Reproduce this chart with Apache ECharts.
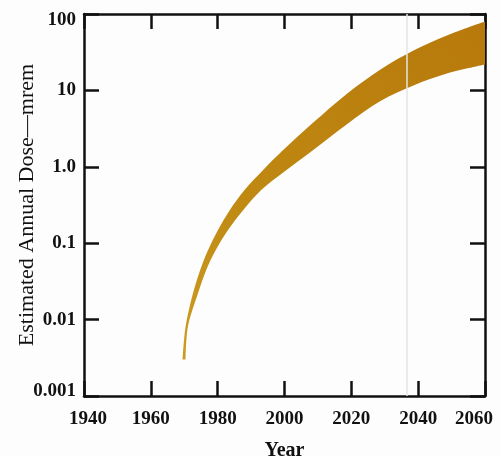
<!DOCTYPE html>
<html>
<head>
<meta charset="utf-8">
<script src="https://cdn.jsdelivr.net/npm/echarts@6/dist/echarts.min.js"></script>
<style>
  html, body { margin: 0; padding: 0; background: #fdfdfd; }
  #chart { width: 501px; height: 456px; }
</style>
</head>
<body>
<div id="chart"></div>
<script>
// Upper edge of the band (year, estimated annual dose in mrem)
const upperYears = [1969.5, 1970.4, 1972.6, 1974.8, 1977.1, 1980.1, 1983.6, 1988.1, 1993.6, 1999.6, 2008.6, 2018.6, 2028.6, 2038.6, 2048.6, 2060];
const upperDose  = [0.003, 0.0081, 0.022, 0.045, 0.081, 0.149, 0.27, 0.50, 0.91, 1.66, 3.8, 9.0, 18.7, 33.4, 52.5, 80];
// Lower edge of the band
const lowerYears = [1970.4, 1971.1, 1974.1, 1976.6, 1979.4, 1983.1, 1987.6, 1993.1, 1999.8, 2008.6, 2018.6, 2028.6, 2038.6, 2048.6, 2060];
const lowerDose  = [0.003, 0.0081, 0.022, 0.045, 0.081, 0.149, 0.27, 0.50, 0.855, 1.66, 3.58, 7.2, 11.6, 16.6, 21.8];

const xTickValues = [1940, 1960, 1980, 2000, 2020, 2040, 2060];
const xTickLabels = ['1940', '1960', '1980', '2000', '2020', '2040', '2060'];
const yTickValues = [0.001, 0.01, 0.1, 1, 10, 100];
const yTickLabels = ['0.001', '0.01', '0.1', '1.0', '10', '100'];

const FONT = '"Liberation Serif", "DejaVu Serif", serif';
const INK = '#111111';

const chart = echarts.init(document.getElementById('chart'), null, { renderer: 'canvas' });

const tickStyle = { show: true, inside: true, length: 15, lineStyle: { color: INK, width: 2.5 } };
const lineStyle = { show: true, lineStyle: { color: INK, width: 2.5 } };

const base = { fontFamily: FONT, fontSize: 19, fontWeight: 'bold', color: INK };
const labelRich = {
  n: Object.assign({}, base),
  t: Object.assign({}, base, { padding: [12, 0, 0, 0] }),
  b: Object.assign({}, base, { padding: [0, 0, 10, 0] }),
  l: Object.assign({}, base, { padding: [0, 0, 0, 8] }),
  r: Object.assign({}, base, { padding: [0, 22, 0, 0] })
};

function yLabel(v) {
  const i = Math.round(Math.log10(v)) + 3;
  const s = yTickLabels[i];
  if (s === undefined) return '';
  if (i === yTickLabels.length - 1) return '{t|' + s + '}';
  if (i === 0) return '{b|' + s + '}';
  return '{n|' + s + '}';
}
function xLabel(v) {
  const i = xTickValues.indexOf(Math.round(v));
  if (i < 0) return '';
  const s = xTickLabels[i];
  if (i === 0) return '{l|' + s + '}';
  if (i === xTickLabels.length - 1) return '{r|' + s + '}';
  return '{n|' + s + '}';
}

// centripetal Catmull-Rom through screen points -> cubic bezier path commands
function crSegments(pts) {
  const A = 0.5;
  const len = (p, q) => Math.hypot(q[0] - p[0], q[1] - p[1]);
  let d = '';
  for (let i = 0; i < pts.length - 1; i++) {
    const p0 = pts[i - 1] || pts[i], p1 = pts[i], p2 = pts[i + 1], p3 = pts[i + 2] || pts[i + 1];
    const l01 = Math.pow(len(p0, p1), A), l12 = Math.pow(len(p1, p2), A), l23 = Math.pow(len(p2, p3), A);
    let b1 = p1.slice(), b2 = p2.slice();
    if (l01 > 1e-6) {
      const a = 2 * l01 * l01 + 3 * l01 * l12 + l12 * l12, n = 3 * l01 * (l01 + l12);
      b1 = [0, 1].map(k => (p1[k] * a - p0[k] * l12 * l12 + p2[k] * l01 * l01) / n);
    }
    if (l23 > 1e-6) {
      const b = 2 * l23 * l23 + 3 * l23 * l12 + l12 * l12, m = 3 * l23 * (l23 + l12);
      b2 = [0, 1].map(k => (p2[k] * b + p1[k] * l23 * l23 - p3[k] * l12 * l12) / m);
    }
    d += 'C' + b1[0] + ' ' + b1[1] + ' ' + b2[0] + ' ' + b2[1] + ' ' + p2[0] + ' ' + p2[1];
  }
  return d;
}

const option = {
  backgroundColor: '#fdfdfd',
  animation: false,
  grid: { left: 84, right: 16, top: 14, bottom: 60, containLabel: false, outerBoundsMode: 'none' },
  xAxis: [
    {
      type: 'value', min: 1940, max: 2060, interval: 20,
      axisLine: lineStyle, axisTick: tickStyle, splitLine: { show: false },
      axisLabel: { show: true, margin: 14, formatter: xLabel, rich: labelRich, showMinLabel: true, showMaxLabel: true },
      name: 'Year', nameLocation: 'middle', nameGap: 45, nameMoveOverlap: false,
      nameTextStyle: { fontFamily: FONT, fontSize: 20, fontWeight: 'bold', color: INK }
    },
    {
      type: 'value', position: 'top', min: 1940, max: 2060, interval: 20,
      axisLine: lineStyle, axisTick: tickStyle, splitLine: { show: false }, axisLabel: { show: false }
    }
  ],
  yAxis: [
    {
      type: 'log', logBase: 10, min: 0.001, max: 100,
      axisLine: lineStyle, axisTick: tickStyle, splitLine: { show: false }, minorTick: { show: false },
      axisLabel: { show: true, margin: 8, formatter: yLabel, rich: labelRich, showMinLabel: true, showMaxLabel: true },
      name: 'Estimated Annual Dose\u2014mrem', nameLocation: 'middle', nameGap: 46, nameMoveOverlap: false,
      nameTextStyle: { fontFamily: FONT, fontSize: 22, color: INK }
    },
    {
      type: 'log', logBase: 10, min: 0.001, max: 100, position: 'right',
      axisLine: lineStyle, axisTick: tickStyle, splitLine: { show: false }, axisLabel: { show: false }
    }
  ],
  series: [
    {
      type: 'line',
      data: [],
      silent: true,
      markLine: {
        symbol: 'none', silent: true, label: { show: false },
        lineStyle: { color: '#e4e4e4', width: 1.5, type: 'solid' },
        data: [{ xAxis: 2036.5 }]
      }
    },
    {
      type: 'custom',
      xAxisIndex: 0, yAxisIndex: 0,
      data: [[upperYears[0], upperDose[0]]],
      encode: { x: 0, y: 1 },
      renderItem: function (params, api) {
        const up = upperYears.map((y, i) => api.coord([y, upperDose[i]]));
        const lo = lowerYears.map((y, i) => api.coord([y, lowerDose[i]])).reverse();
        const d = 'M' + up[0][0] + ' ' + up[0][1] + crSegments(up) +
                  'L' + lo[0][0] + ' ' + lo[0][1] + crSegments(lo) + 'Z';
        return {
          type: 'path',
          shape: { pathData: d },
          style: {
            fill: new echarts.graphic.LinearGradient(0, 1, 1, 0, [
              { offset: 0, color: '#cc9c22' },
              { offset: 0.35, color: '#bf8912' },
              { offset: 1, color: '#b7790b' }
            ]),
            stroke: null
          }
        };
      },
      z: 3
    }
  ]
};
chart.setOption(option);
</script>
</body>
</html>
